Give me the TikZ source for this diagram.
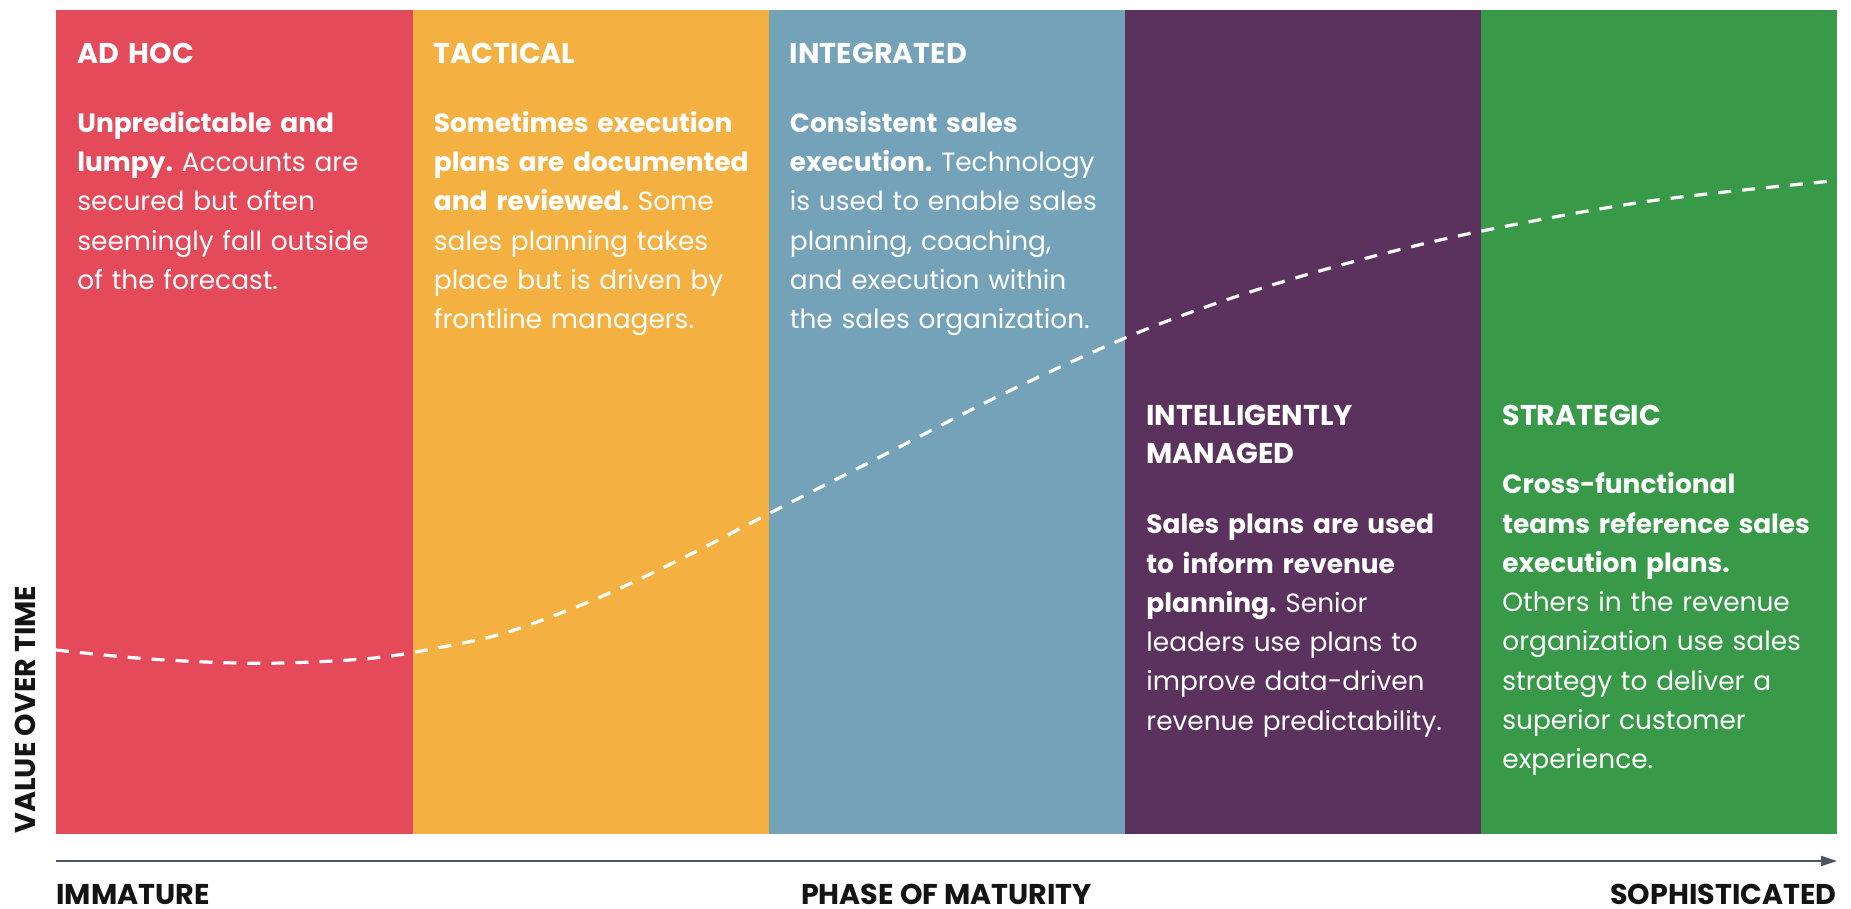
\documentclass[tikz,border=0pt]{standalone}
\usepackage{xcolor}
\usepackage{fontspec}
\setmainfont{Poppins}
\usepackage{tikz}
\usetikzlibrary{arrows.meta}

\definecolor{adhocred}{RGB}{228,74,90}
\definecolor{tacticalorange}{RGB}{244,177,66}
\definecolor{integratedblue}{RGB}{116,162,185}
\definecolor{managedpurple}{RGB}{91,50,94}
\definecolor{strategicgreen}{RGB}{56,153,73}
\definecolor{axisgray}{RGB}{74,84,100}
\definecolor{labelblack}{RGB}{20,20,20}

\newcommand{\phasefont}{\fontsize{14.3}{19.25}\selectfont\bfseries}
\newcommand{\bodyfont}{\fontsize{13.2}{19.65}\selectfont}
\newcommand{\axisfont}{\fontsize{14.3}{17}\selectfont\bfseries}
\frenchspacing

\begin{document}
\begin{tikzpicture}[x=0.5pt,y=-0.5pt,
    phasetitle/.style={anchor=north west,inner sep=0pt,text width=170pt,align=left,text=white,font=\phasefont},
    phasebody/.style={anchor=north west,inner sep=0pt,text width=170pt,align=left,text=white,font=\bodyfont},
    axislabel/.style={inner sep=0pt,text=labelblack,font=\axisfont},
    valuecurve/.style={white,line width=1.6pt,dash pattern=on 6.5pt off 5.5pt},
    axisline/.style={axisgray,line width=1pt,-{Triangle[length=8pt,width=5pt]}}]
    \useasboundingbox (0,0) rectangle (1851,909);
    % 色块
    \fill[adhocred] (56,10) rectangle (412.5,834);
    \fill[tacticalorange] (412.5,10) rectangle (768.8,834);
    \fill[integratedblue] (768.8,10) rectangle (1125,834);
    \fill[managedpurple] (1125,10) rectangle (1481.3,834);
    \fill[strategicgreen] (1481.3,10) rectangle (1837,834);
    % 虚线曲线
    \draw[valuecurve] plot[smooth,tension=0.55] coordinates {(56,650) (150,659) (260,663.3) (367,658.7) (437,648) (508,632) (598,598) (685,557) (772,512) (878,458) (1005,393) (1137,333) (1250,292) (1367,258) (1482,231) (1650,201) (1837,180.5)};
    % 阶段文字
    \node[phasetitle] (adhoc) at (77,36) {\strut AD HOC};
    \node[phasebody] (adhocbody) at (77,104.2) {\strut\textbf{Unpredictable and}\\\textbf{lumpy.} Accounts are\\secured but often\\seemingly fall outside\\of the forecast.};
    \node[phasetitle] (tactical) at (433.5,36) {\strut TACTICAL};
    \node[phasebody] (tacticalbody) at (433.5,104.2) {\strut\textbf{Sometimes execution}\\\textbf{plans are documented}\\\textbf{and reviewed.} Some\\sales planning takes\\place but is driven by\\frontline managers.};
    \node[phasetitle] (integrated) at (789.5,36) {\strut INTEGRATED};
    \node[phasebody] (integratedbody) at (789.5,104.2) {\strut\textbf{Consistent sales}\\\textbf{execution.} Technology\\is used to enable sales\\planning, coaching,\\and execution within\\the sales organization.};
    \node[phasetitle] (managed) at (1146,398) {\strut INTELLIGENTLY\\MANAGED};
    \node[phasebody] (managedbody) at (1146,505.8) {\strut\textbf{Sales plans are used}\\\textbf{to inform revenue}\\\textbf{planning.} Senior\\leaders use plans to\\improve data-driven\\revenue predictability.};
    \node[phasetitle] (strategic) at (1502,398) {\strut STRATEGIC};
    \node[phasebody] (strategicbody) at (1502,465.8) {\strut\textbf{Cross-functional}\\\textbf{teams reference sales}\\\textbf{execution plans.}\\Others in the revenue\\organization use sales\\strategy to deliver a\\superior customer\\experience.};
    % 坐标轴
    \coordinate (axisstart) at (56,861);
    \coordinate (axisend) at (1837,861);
    \draw[axisline] (axisstart) -- (axisend);
    \node[axislabel,anchor=base west] (immature) at (56,904) {IMMATURE};
    \node[axislabel,anchor=base] (phase) at (946.5,904) {PHASE OF MATURITY};
    \node[axislabel,anchor=base east] (sophisticated) at (1837,904) {SOPHISTICATED};
    \node[axislabel,anchor=base west,rotate=90] (value) at (35,834) {VALUE OVER TIME};
\end{tikzpicture}
\end{document}
